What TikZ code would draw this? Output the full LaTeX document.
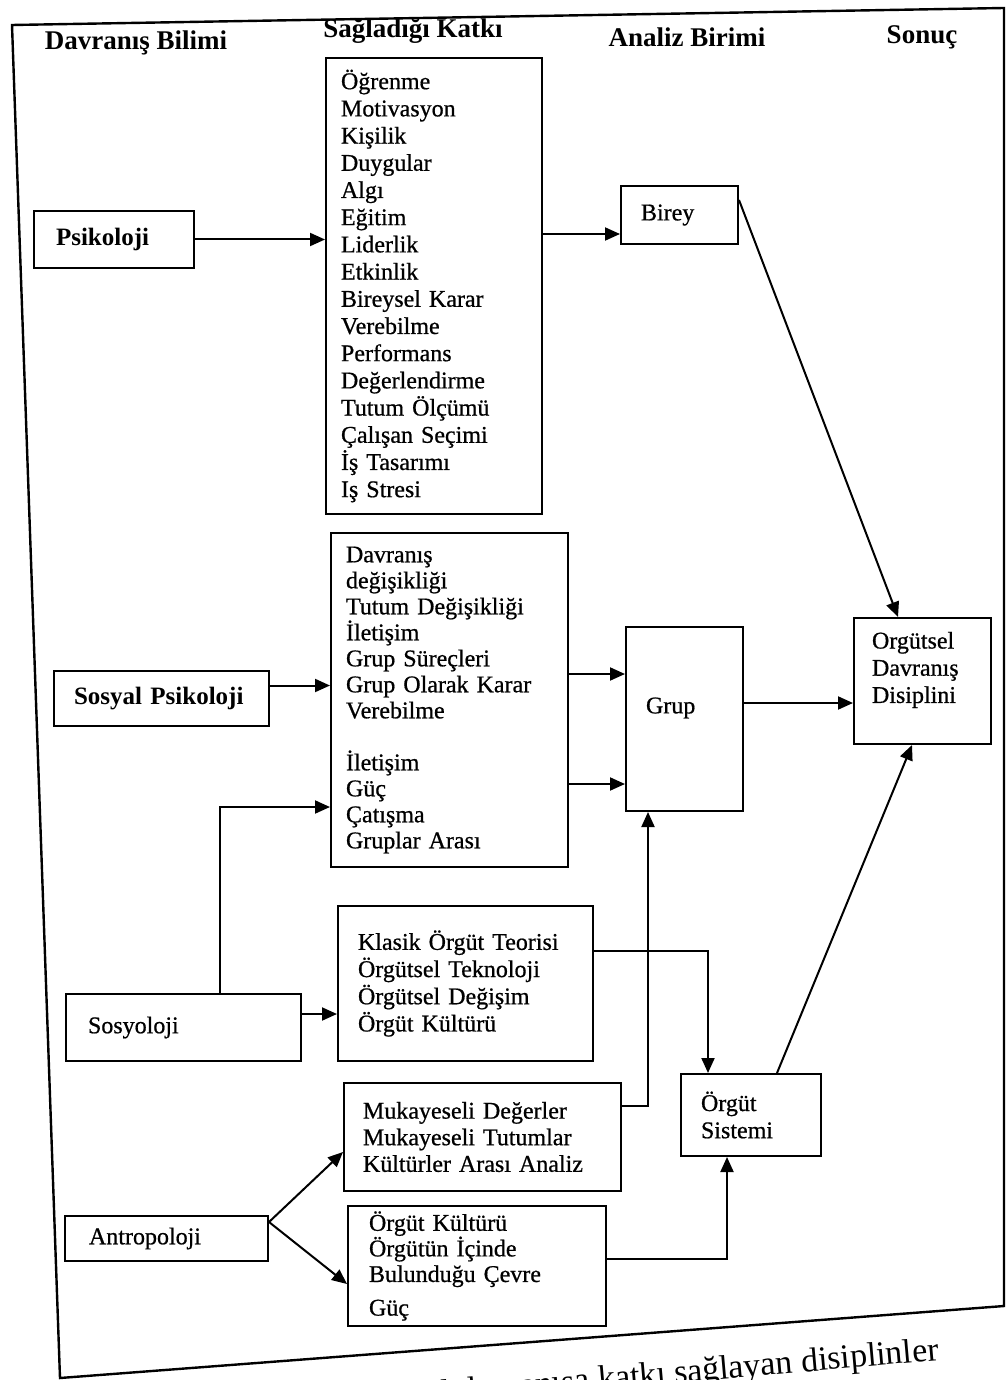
\documentclass[tikz,border=0pt]{standalone}
\usepackage{fontspec}
\setmainfont{Liberation Serif}
\newfontfamily\scanfont{Liberation Serif}[FakeBold=0.7]
\usetikzlibrary{arrows.meta,calc}
\begin{document}
\begin{tikzpicture}[x=0.5pt,y=-0.5pt,
  box/.style={draw, line width=1pt, anchor=north west, align=left, inner ysep=0pt,
    font=\fontsize{12}{13.6}\selectfont\scanfont},
  bbox/.style={box, font=\fontsize{12.5}{14}\selectfont\bfseries},
  hdr/.style={font=\fontsize{13.5}{15}\selectfont\bfseries},
  arr/.style={line width=1pt, -{Triangle[length=7.5pt,width=6.5pt]}}]
\useasboundingbox (0,0) rectangle (1006,1380);
% outer frame
\draw[line width=1.2pt] (12,25) -- (1004,8) -- (1004,1306) -- (60,1378) -- cycle;
% headers
\node[hdr] (h1) at (136,43) {Davranış Bilimi};
\node[hdr] (h2) at (413,31) {Sağladığı Katkı};
\node[hdr] (h3) at (687,37) {Analiz Birimi};
\node[hdr] (h4) at (922,37) {Sonuç};
% boxes
\node[bbox, inner xsep=11pt, text width=58pt, minimum height=28.5pt] (psi) at (33,210) {Psikoloji};
\node[box, inner xsep=7.5pt, text width=93pt, minimum height=228pt] (l1) at (325,57)
  {Öğrenme\\Motivasyon\\Kişilik\\Duygular\\Algı\\Eğitim\\Liderlik\\Etkinlik\\Bireysel Karar\\Verebilme\\Performans\\Değerlendirme\\Tutum Ölçümü\\Çalışan Seçimi\\İş Tasarımı\\Iş Stresi};
\node[box, inner xsep=10pt, text width=38.5pt, minimum height=29pt] (bir) at (620,185) {Birey};
\node[bbox, inner xsep=10pt, text width=87.5pt, minimum height=27.5pt] (sp) at (53,670) {Sosyal Psikoloji};
\node[box, inner xsep=7.5pt, text width=103.5pt, minimum height=167pt, font=\fontsize{12}{13}\selectfont\scanfont] (l2) at (330,532)
  {Davranış\\değişikliği\\Tutum Değişikliği\\İletişim\\Grup Süreçleri\\Grup Olarak Karar\\Verebilme\\[13pt]İletişim\\Güç\\Çatışma\\Gruplar Arası};
\node[box, inner xsep=10pt, text width=38.5pt, minimum height=92pt] (grup) at (625,626) {Grup\\ \mbox{}};
\node[box, inner xsep=9pt, text width=50.5pt, minimum height=63pt] (odd) at (853,617) {Orgütsel\\Davranış\\Disiplini\\ \mbox{}};
\node[box, inner xsep=11pt, text width=95.5pt, minimum height=33.5pt] (sosy) at (65,993) {Sosyoloji};
\node[box, inner xsep=10pt, text width=107.5pt, minimum height=77.5pt] (kl) at (337,905)
  {Klasik Örgüt Teorisi\\Örgütsel Teknoloji\\Örgütsel Değişim\\Örgüt Kültürü};
\node[box, inner xsep=9.5pt, text width=119.5pt, minimum height=54pt, font=\fontsize{12}{13.3}\selectfont\scanfont] (muk) at (343,1082)
  {Mukayeseli Değerler\\Mukayeseli Tutumlar\\Kültürler Arası Analiz};
\node[box, inner xsep=10pt, text width=50pt, minimum height=41pt] (os) at (680,1073) {Örgüt\\Sistemi};
\node[box, inner xsep=12pt, text width=77.5pt, minimum height=22.5pt] (antro) at (64,1215) {Antropoloji};
\node[box, inner xsep=10.5pt, text width=108pt, minimum height=60pt, font=\fontsize{12}{12.8}\selectfont\scanfont] (ok) at (347,1205)
  {Örgüt Kültürü\\Örgütün İçinde\\Bulunduğu Çevre\\[4pt]Güç};
% caption (cut off by the page edge, as in the reference)
\node[font=\fontsize{17}{20}\selectfont, rotate=5, anchor=base east, inner sep=0pt] (cap) at (940,1360)
  {Örgütsel davranışa katkı sağlayan disiplinler};
% connectors
\draw[arr] (psi.east) -- (psi.east -| l1.west);
\coordinate (b1) at ([yshift=-9.5pt]bir.west);
\draw[arr] (b1 -| l1.east) -- (b1);
\draw[arr] ([yshift=-7.5pt]bir.north east) -- ([xshift=22.5pt]odd.north west);
\coordinate (s1) at ([yshift=6.5pt]sp.east);
\draw[arr] (s1) -- (s1 -| l2.west);
\coordinate (g1) at ([yshift=22.5pt]grup.west);
\coordinate (g2) at ([yshift=-32.5pt]grup.west);
\draw[arr] (g1 -| l2.east) -- (g1);
\draw[arr] (g2 -| l2.east) -- (g2);
\coordinate (g3) at ([yshift=8pt]grup.east);
\draw[arr] (g3) -- (g3 -| odd.west);
\coordinate (so1) at ([yshift=6.75pt]sosy.east);
\draw[arr] (so1) -- (so1 -| kl.west);
\coordinate (so2) at ([xshift=77.5pt]sosy.north west);
\coordinate (l2b) at ([yshift=-53.5pt]l2.west);
\draw[arr] (so2) |- (l2b);
\coordinate (k1) at ([yshift=16.25pt]kl.east);
\coordinate (os1) at ([xshift=14pt]os.north west);
\draw[arr] (k1) -| (os1);
\coordinate (m1) at ([yshift=15.5pt]muk.east);
\coordinate (g4) at ([xshift=11.5pt]grup.south west);
\draw[arr] (m1) -| (g4);
\draw[arr] ([xshift=48.5pt]os.north west) -- ([xshift=29.5pt]odd.south west);
\coordinate (a0) at ([yshift=-3.5pt]antro.north east);
\draw[arr] (a0) -- ([yshift=20pt]muk.south west);
\draw[arr] (a0) -- ([yshift=-39.5pt]ok.north west);
\coordinate (o1) at ([yshift=3.5pt]ok.east);
\coordinate (o2) at ([xshift=23.5pt]os.south west);
\draw[arr] (o1) -| (o2);
\end{tikzpicture}
\end{document}
